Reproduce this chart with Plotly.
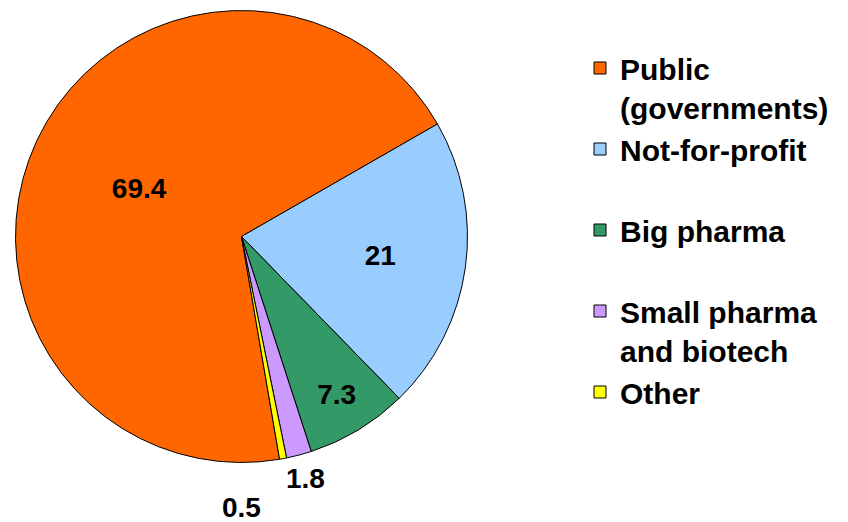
import math
import plotly.graph_objects as go

# ---- data ----
categories = ["Public<br>(governments)", "Not-for-profit<br> ", "Big pharma<br> ",
              "Small pharma<br>and biotech", "Other<br> "]
values = [69.4, 21, 7.3, 1.8, 0.5]

# ---- style ----
colors = ["#FF6600", "#99CCFF", "#339966", "#CC99FF", "#FFFF00"]
inside_label = [True, True, True, False, False]
outside_label_dist = [0, 0, 0, 1.105, 1.20]       # fraction of radius
outside_label_angle_shift = [0, 0, 0, 0, 10.6]    # degrees, collision avoidance
FONT = "Liberation Sans, Arial, sans-serif"

# Figure sized to the window minus the page's default 8px body margin
W, H = 840, 514
cx, cy, r = 233.5, 228.5, 226          # pie centre / radius in figure pixels
rotation = 170.3                        # degrees clockwise from 12 o'clock

texttemplate = ["%{value}" if ins else "" for ins in inside_label]

fig = go.Figure(go.Pie(
    labels=categories,
    values=values,
    sort=False,
    direction="clockwise",
    rotation=rotation,
    marker=dict(colors=colors, line=dict(color="black", width=1)),
    texttemplate=texttemplate,
    textposition="inside",
    insidetextorientation="horizontal",
    textfont=dict(family=FONT, size=28, color="black", weight="bold"),
    domain=dict(x=[(cx - r) / W, (cx + r) / W], y=[(H - cy - r) / H, (H - cy + r) / H]),
    hoverinfo="label+value",
))

# outside value labels for the small slices, placed from the slice angles
total = sum(values)
cum = 0.0
annotations = []
for v, ins, dist, shift in zip(values, inside_label, outside_label_dist, outside_label_angle_shift):
    mid = rotation + 360.0 * (cum + v / 2.0) / total
    cum += v
    if ins:
        continue
    a = math.radians(mid + shift)
    px = cx + dist * r * math.sin(a)
    py = cy - dist * r * math.cos(a)
    annotations.append(dict(
        x=px / W, y=1 - py / H, xref="paper", yref="paper",
        text=f"{v:g}", showarrow=False, xanchor="center", yanchor="middle",
        font=dict(family=FONT, size=28, color="black", weight="bold"),
    ))

fig.update_layout(
    width=W, height=H,
    margin=dict(l=0, r=0, t=0, b=0),
    paper_bgcolor="white",
    plot_bgcolor="white",
    showlegend=True,
    annotations=annotations,
    legend=dict(
        x=572 / W, xanchor="left",
        y=1 - 34 / H, yanchor="top",
        valign="top",
        font=dict(family=FONT, size=30, color="black", weight="bold"),
        bgcolor="rgba(0,0,0,0)",
    ),
)

fig.write_html("out.html")
